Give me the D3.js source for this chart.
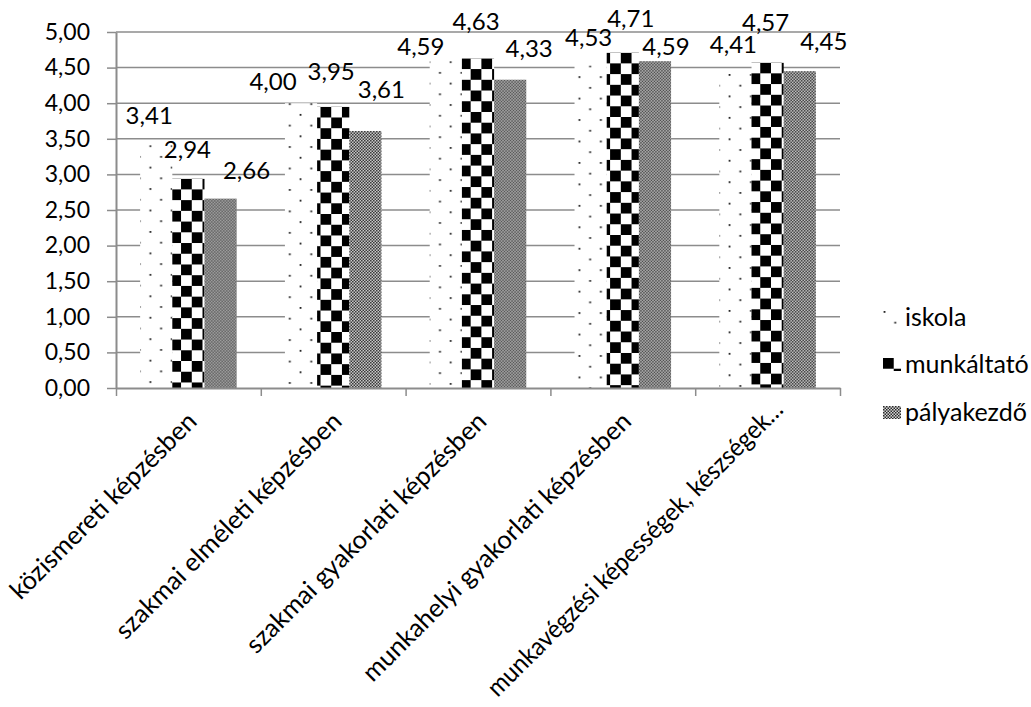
<!DOCTYPE html>
<html>
<head>
<meta charset="utf-8">
<script src="https://cdn.jsdelivr.net/npm/d3@7"></script>
<style>
  html, body { margin: 0; padding: 0; background: #fff; }
  svg { display: block; }
  text { font-family: Lato, "Open Sans", sans-serif; fill: #000; }
</style>
</head>
<body>
<script>
// ---------- data ----------
const categories = [
  "közismereti képzésben",
  "szakmai elméleti képzésben",
  "szakmai gyakorlati képzésben",
  "munkahelyi gyakorlati képzésben",
  "munkavégzési képességek, készségek…"
];
const seriesNames = ["iskola", "munkáltató", "pályakezdő"];
const iskola     = [3.41, 4.00, 4.59, 4.53, 4.41];
const munkaltato = [2.94, 3.95, 4.63, 4.71, 4.57];
const palyakezdo = [2.66, 3.61, 4.33, 4.59, 4.45];
const yTicks = [0, 0.5, 1, 1.5, 2, 2.5, 3, 3.5, 4, 4.5, 5];

// ---------- layout ----------
const W = 1031, H = 707;
const plot = { left: 116, right: 840, top: 32, bottom: 388 };
const FONT_TICK = 23, FONT_VAL = 24, FONT_CAT = 25.5, FONT_LEG = 25;
const MAX_CAT_LEN = 406;
const gridColor = "#8c8c8c";
// label nudges (px) relative to default "above bar" spot, per category then series
const labelNudge = [
  [[-7, -21], [-1, -21], [26, -20]],
  [[-28, -13], [-2, -27], [16, -33]],
  [[-25, -6], [-2, -28], [19, -23]],
  [[-2, -19], [8, -26], [11, -6]],
  [[-2, -21], [-2, -32], [24, -21]]
];

const seriesValues = [iskola, munkaltato, palyakezdo];
const table = categories.map((c, i) => ({
  cat: c, i,
  vals: seriesNames.map((s, k) => ({ s, k, v: seriesValues[k][i], ci: i }))
}));

const loc = d3.formatLocale({ decimal: ",", thousands: " ", grouping: [3], currency: ["", ""] });
const fmt = loc.format(".2f");

const svg = d3.select("body").append("svg").attr("width", W).attr("height", H);
const defs = svg.append("defs");

const x0 = d3.scaleBand().domain(categories).range([plot.left, plot.right]);
const x1 = d3.scaleBand().domain(seriesNames).range([0, x0.bandwidth()])
  .paddingInner(0).paddingOuter(0.75);
const y = d3.scaleLinear().domain([0, 5]).range([plot.bottom, plot.top]);
const bw = x1.bandwidth();
const cell = bw / 3;

// ---------- patterns ----------
function makePattern(id, k, ox, oy) {
  if (k === 0) {
    const p = defs.append("pattern").attr("id", id).attr("patternUnits", "userSpaceOnUse")
      .attr("x", ox).attr("y", oy).attr("width", 2 * cell).attr("height", 2 * cell);
    p.append("rect").attr("width", 2 * cell).attr("height", 2 * cell).attr("fill", "#fff");
    p.append("rect").attr("x", 0.6).attr("y", 0).attr("width", 1.8).attr("height", 1.8).attr("fill", "#222");
    p.append("rect").attr("x", 0.6 + cell).attr("y", cell).attr("width", 1.8).attr("height", 1.8).attr("fill", "#222");
  } else if (k === 1) {
    const p = defs.append("pattern").attr("id", id).attr("patternUnits", "userSpaceOnUse")
      .attr("x", ox).attr("y", oy).attr("width", 2 * cell).attr("height", 2 * cell);
    p.append("rect").attr("width", 2 * cell).attr("height", 2 * cell).attr("fill", "#fff");
    p.append("rect").attr("x", 0).attr("y", 0).attr("width", cell).attr("height", cell).attr("fill", "#000");
    p.append("rect").attr("x", cell).attr("y", cell).attr("width", cell).attr("height", cell).attr("fill", "#000");
  } else {
    const p = defs.append("pattern").attr("id", id).attr("patternUnits", "userSpaceOnUse")
      .attr("x", ox).attr("y", oy).attr("width", 3).attr("height", 3);
    p.append("rect").attr("width", 3).attr("height", 3).attr("fill", "#d6d6d6");
    p.append("rect").attr("x", 0).attr("y", 0).attr("width", 1.5).attr("height", 1.5).attr("fill", "#2a2a2a");
    p.append("rect").attr("x", 1.5).attr("y", 1.5).attr("width", 1.5).attr("height", 1.5).attr("fill", "#2a2a2a");
  }
}

// ---------- gridlines ----------
svg.append("g").selectAll("line").data(yTicks.filter(t => t > 0)).join("line")
  .attr("x1", plot.left).attr("x2", plot.right)
  .attr("y1", d => y(d)).attr("y2", d => y(d))
  .attr("stroke", gridColor).attr("stroke-width", 1.5);

// ---------- bars ----------
const gCat = svg.append("g").selectAll("g").data(table).join("g")
  .attr("transform", d => `translate(${x0(d.cat)},0)`);

gCat.selectAll("rect").data(d => d.vals).join("rect")
  .each(function (d) {
    const bx = x0(categories[d.ci]) + x1(d.s);
    const id = `pat-${d.ci}-${d.k}`;
    makePattern(id, d.k, bx, y(d.v));
    d3.select(this).attr("fill", `url(#${id})`);
  })
  .attr("x", d => x1(d.s))
  .attr("width", bw)
  .attr("y", d => y(d.v))
  .attr("height", d => y(0) - y(d.v));

// ---------- data labels ----------
gCat.selectAll("text.val").data(d => d.vals).join("text")
  .attr("class", "val")
  .attr("text-anchor", "middle")
  .attr("font-size", FONT_VAL)
  .attr("x", d => x1(d.s) + bw / 2 + labelNudge[d.ci][d.k][0])
  .attr("y", d => y(d.v) + labelNudge[d.ci][d.k][1])
  .text(d => fmt(d.v));

// ---------- y axis ----------
const yAxis = svg.append("g").attr("transform", `translate(${plot.left},0)`)
  .call(d3.axisLeft(y).tickValues(yTicks).tickFormat(fmt).tickSize(9).tickSizeOuter(0).tickPadding(17));
yAxis.select(".domain").attr("stroke", gridColor).attr("stroke-width", 2);
yAxis.selectAll(".tick line").attr("stroke", gridColor).attr("stroke-width", 1.5);
yAxis.selectAll(".tick text").attr("font-size", FONT_TICK).attr("font-family", "Lato, sans-serif").attr("fill", "#000");

// ---------- x axis ----------
const xEdge = d3.scaleLinear().domain([0, categories.length]).range([plot.left, plot.right]);
const xAxisEdges = svg.append("g").attr("transform", `translate(0,${plot.bottom})`)
  .call(d3.axisBottom(xEdge).tickValues(d3.range(categories.length + 1)).tickFormat("").tickSize(8).tickSizeOuter(0));
xAxisEdges.select(".domain").attr("stroke", gridColor).attr("stroke-width", 2);
xAxisEdges.selectAll(".tick line").attr("stroke", gridColor).attr("stroke-width", 1.5);

const xAxisLabels = svg.append("g").attr("transform", `translate(0,${plot.bottom})`)
  .call(d3.axisBottom(x0).tickSize(0));
xAxisLabels.select(".domain").remove();
xAxisLabels.selectAll(".tick text")
  .attr("font-size", FONT_CAT).attr("font-family", "Lato, sans-serif").attr("fill", "#000")
  .attr("text-anchor", "end")
  .attr("x", 0).attr("y", 0).attr("dy", null)
  .each(function (d) {
    const sel = d3.select(this);
    const truncated = d.endsWith("…");
    // truncated labels sit a little higher, like the original
    sel.attr("transform", truncated ? "translate(17,23) rotate(-45)" : "translate(10,35) rotate(-45)");
    const len = this.getComputedTextLength();
    if (len > MAX_CAT_LEN) {
      sel.attr("textLength", MAX_CAT_LEN).attr("lengthAdjust", "spacingAndGlyphs");
    }
  });

// ---------- legend ----------
const legendBase = [326, 373, 421];
const leg = svg.append("g").selectAll("g").data(seriesNames).join("g");
leg.each(function (s, k) {
  const g = d3.select(this);
  const mx = 883, my = legendBase[k] - 15;
  const id = `leg-${k}`;
  makePattern(id, k, mx, my);
  g.append("rect").attr("x", mx).attr("y", my).attr("width", 18).attr("height", 13)
    .attr("fill", `url(#${id})`);
  g.append("text").attr("x", 905).attr("y", legendBase[k]).attr("font-size", FONT_LEG).text(s);
});
</script>
</body>
</html>
